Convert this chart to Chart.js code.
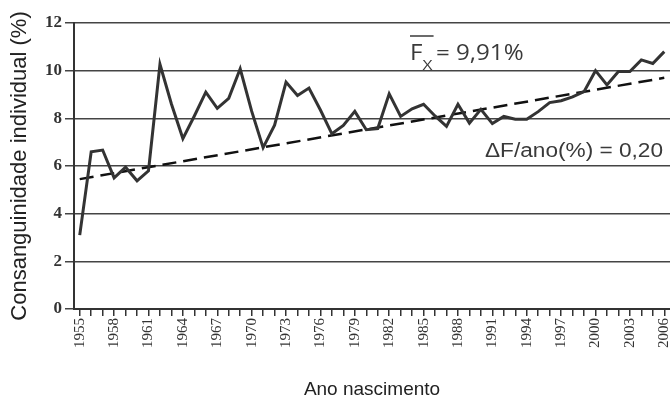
<!DOCTYPE html>
<html>
<head>
<meta charset="utf-8">
<script src="https://cdn.jsdelivr.net/npm/chart.js@4.4.1/dist/chart.umd.min.js"></script>
<style>
  html, body { margin: 0; padding: 0; background: #fff; overflow: hidden; }
  #wrap { width: 670px; height: 401px; }
</style>
</head>
<body>
<div id="wrap"><canvas id="grafico"></canvas></div>
<script>
// anos de nascimento (categorias)
const anos = [1955, 1956, 1957, 1958, 1959, 1960, 1961, 1962, 1963, 1964,
    1965, 1966, 1967, 1968, 1969, 1970, 1971, 1972, 1973, 1974,
    1975, 1976, 1977, 1978, 1979, 1980, 1981, 1982, 1983, 1984,
    1985, 1986, 1987, 1988, 1989, 1990, 1991, 1992, 1993, 1994,
    1995, 1996, 1997, 1998, 1999, 2000, 2001, 2002, 2003, 2004,
    2005, 2006];

// consanguinidade individual (%) por ano
const consanguinidade = [3.1, 6.6, 6.67, 5.5, 5.95, 5.38, 5.8, 10.27, 8.6, 7.15,
    8.1, 9.1, 8.42, 8.84, 10.08, 8.3, 6.77, 7.71, 9.52, 8.96,
    9.27, 8.35, 7.35, 7.7, 8.29, 7.52, 7.57, 9.03, 8.08, 8.4,
    8.59, 8.1, 7.66, 8.59, 7.8, 8.38, 7.78, 8.08, 7.96, 7.96,
    8.28, 8.66, 8.74, 8.9, 9.12, 10.0, 9.4, 9.96, 9.96, 10.45,
    10.3, 10.8];

// linha de tendência (só as pontas)
const tendencia = anos.map(() => null);
tendencia[0] = 5.45;
tendencia[anos.length - 1] = 9.7;

// rótulos mostrados no eixo x
const anosRotulo = [1955, 1958, 1961, 1964, 1967, 1970, 1973, 1976, 1979, 1982,
    1985, 1988, 1991, 1994, 1997, 2000, 2003, 2006];
const ticksY = [0, 2, 4, 6, 8, 10, 12];

// textos de anotação
const textoMedia = '= 9,91%';
const textoDelta = 'ΔF/ano(%) = 0,20';

const corTexto = '#3a3a3a';
const esticar = 1.15; // o original está um pouco esticado na horizontal

// desenha as anotações por cima
const anotacoes = {
    id: 'anotacoes',
    afterDatasetsDraw(chart) {
        const ctx = chart.ctx;
        ctx.save();
        ctx.fillStyle = corTexto;
        ctx.strokeStyle = corTexto;
        ctx.textBaseline = 'alphabetic';
        ctx.textAlign = 'left';

        // F barra com subscrito X
        ctx.save();
        ctx.translate(410, 60);
        ctx.scale(esticar, 1);
        ctx.font = '21px "Open Sans", sans-serif';
        ctx.fillText('F', 0, 0);
        const wf = ctx.measureText('F').width;
        ctx.font = '15px "Open Sans", sans-serif';
        ctx.fillText('X', wf, 10);
        const wx = ctx.measureText('X').width;
        ctx.font = '21px "Open Sans", sans-serif';
        ctx.fillText(textoMedia, wf + wx + 3, 0);
        ctx.lineWidth = 1.5;
        ctx.beginPath();
        ctx.moveTo(0, -24);
        ctx.lineTo(wf + wx + 1, -24);
        ctx.stroke();
        ctx.restore();

        // delta F por ano
        ctx.font = '20px "Liberation Sans", Arial, sans-serif';
        const w = ctx.measureText(textoDelta).width;
        ctx.translate(485, 157);
        ctx.scale(178 / w, 1);
        ctx.fillText(textoDelta, 0, 0);
        ctx.restore();
    }
};

const ctx = document.getElementById('grafico').getContext('2d');
new Chart(ctx, {
    type: 'line',
    data: {
        labels: anos,
        datasets: [{
            data: consanguinidade,
            borderColor: '#333',
            borderWidth: 3,
            pointRadius: 0,
            tension: 0,
            fill: false
        }, {
            data: tendencia,
            spanGaps: true,
            borderColor: '#111',
            borderWidth: 2.5,
            borderDash: [14, 7],
            pointRadius: 0,
            fill: false
        }]
    },
    options: {
        responsive: true,
        maintainAspectRatio: false,
        animation: false,
        layout: { padding: { top: 23, right: 0, left: 0, bottom: 0 } },
        plugins: {
            legend: { display: false },
            tooltip: { enabled: false }
        },
        scales: {
            x: {
                type: 'category',
                offset: true,
                grid: {
                    drawOnChartArea: false,
                    drawTicks: true,
                    tickLength: 7,
                    color: '#333',
                    lineWidth: 1.5
                },
                border: { color: '#333', width: 2 },
                ticks: {
                    autoSkip: false,
                    minRotation: 90,
                    maxRotation: 90,
                    padding: 2,
                    color: '#333',
                    font: { family: '"Liberation Serif", serif', size: 15 },
                    callback: function(val, i) {
                        const ano = anos[i];
                        return anosRotulo.includes(ano) ? String(ano) : '';
                    }
                },
                title: {
                    display: true,
                    text: 'Ano nascimento',
                    color: '#222',
                    font: { family: '"Liberation Sans", Arial, sans-serif', size: 19 },
                    padding: { top: 0, bottom: 0 }
                },
                afterFit: function(scale) {
                    scale.height = 92;
                    scale.paddingLeft = 0;
                    scale.paddingRight = 0;
                }
            },
            y: {
                min: 0,
                max: 12,
                afterBuildTicks: function(scale) {
                    scale.ticks = ticksY.map(v => ({ value: v }));
                },
                grid: {
                    color: '#444',
                    lineWidth: 1.5,
                    tickLength: 9
                },
                border: { color: '#333', width: 2 },
                ticks: {
                    padding: 3,
                    color: '#333',
                    font: { family: '"Liberation Serif", serif', size: 17, weight: 'bold' }
                },
                title: {
                    display: true,
                    text: 'Consanguinidade individual (%)',
                    color: '#222',
                    font: { family: '"Liberation Sans", Arial, sans-serif', size: 22 },
                    padding: { top: 7, bottom: 0 }
                },
                afterFit: function(scale) { scale.width = 74; }
            }
        }
    },
    plugins: [anotacoes]
});
</script>
</body>
</html>
